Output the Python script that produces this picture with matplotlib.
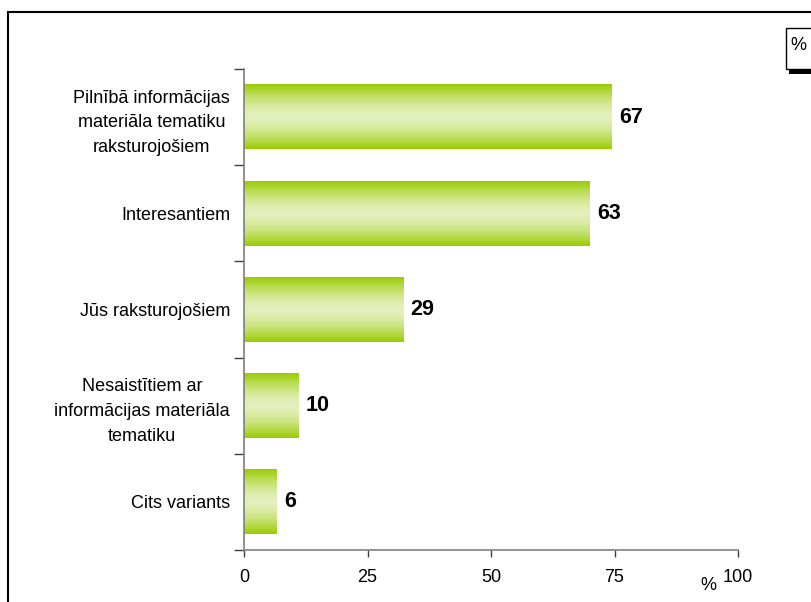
import numpy as np
import matplotlib
matplotlib.use("Agg")
import matplotlib.pyplot as plt
from matplotlib.patches import Rectangle
from matplotlib.colors import to_rgb

plt.rcParams['font.family'] = ['Liberation Sans', 'DejaVu Sans']

categories = [
    "Pilnībā informācijas\nmateriāla tematiku\nraksturojošiem",
    "Interesantiem",
    "Jūs raksturojošiem",
    "Nesaistītiem ar\ninformācijas materiāla\ntematiku",
    "Cits variants",
]
values = [67, 63, 29, 10, 6]
tick_labels = ["0", "25", "50", "75", "100"]
axis_max = 90

W, H = 811, 602
fig = plt.figure(figsize=(W / 100, H / 100), dpi=100)
fig.patch.set_facecolor("white")

ax = fig.add_axes([244 / W, 1 - 550 / H, (738 - 244) / W, (550 - 69) / H])

# vertical gradient: saturated green at the edges, pale in the middle
edge = np.array(to_rgb("#99cc00"))
light = np.array(to_rgb("#e4f0bd"))
v = np.linspace(0, 1, 200)
t = np.abs(2 * v - 1) ** 1.6
grad = light[None, :] + (edge - light)[None, :] * t[:, None]
grad = grad[:, None, :]

bar_h = 0.67
ypos = np.arange(len(values))
for y, val in zip(ypos, values):
    ax.imshow(grad, extent=(0, val, y + bar_h / 2, y - bar_h / 2),
              aspect="auto", interpolation="bilinear", zorder=2)
    ax.text(val + 1.3, y, str(val), va="center", ha="left",
            fontsize=15.5, fontweight="bold", color="black")

ax.set_xlim(0, axis_max)
ax.set_ylim(len(values) - 0.5, -0.5)

for s in ["top", "right"]:
    ax.spines[s].set_visible(False)
for s in ["left", "bottom"]:
    ax.spines[s].set_color("#808080")
    ax.spines[s].set_linewidth(1.2)
    ax.spines[s].set_zorder(3)

ax.set_xticks(np.linspace(0, axis_max, len(tick_labels)))
ax.set_xticklabels(tick_labels, fontsize=13)
ax.tick_params(axis="x", direction="out", length=5, width=1, color="#404040", pad=9)

ax.set_yticks(ypos)
ax.set_yticklabels(categories, fontsize=13, multialignment="center", linespacing=1.6)
ax.tick_params(axis="y", which="major", length=0, pad=10)
ax.set_yticks(np.arange(-0.5, len(values), 1.0), minor=True)
ax.tick_params(axis="y", which="minor", direction="out", length=7, width=1, color="#404040")

fig.text(708 / W, 1 - 586 / H, "%", fontsize=13, ha="center", va="center")

# outer frame running off the right and bottom edges
fig.add_artist(Rectangle((8 / W, -0.05), 1.1, 1 - 12 / H + 0.05,
                         transform=fig.transFigure, fill=False,
                         edgecolor="black", lw=1.5, clip_on=False))

# legend-style box in the top right corner
fig.add_artist(Rectangle((789 / W, 1 - 74 / H), 0.1, 5 / H,
                         transform=fig.transFigure, facecolor="black",
                         edgecolor="none", clip_on=False))
fig.add_artist(Rectangle((786 / W, 1 - 69 / H), 0.1, 41 / H,
                         transform=fig.transFigure, facecolor="white",
                         edgecolor="black", lw=1, clip_on=False))
fig.text(798 / W, 1 - 46 / H, "%", fontsize=13, ha="center", va="center")

fig.savefig("out.png", dpi=100)
